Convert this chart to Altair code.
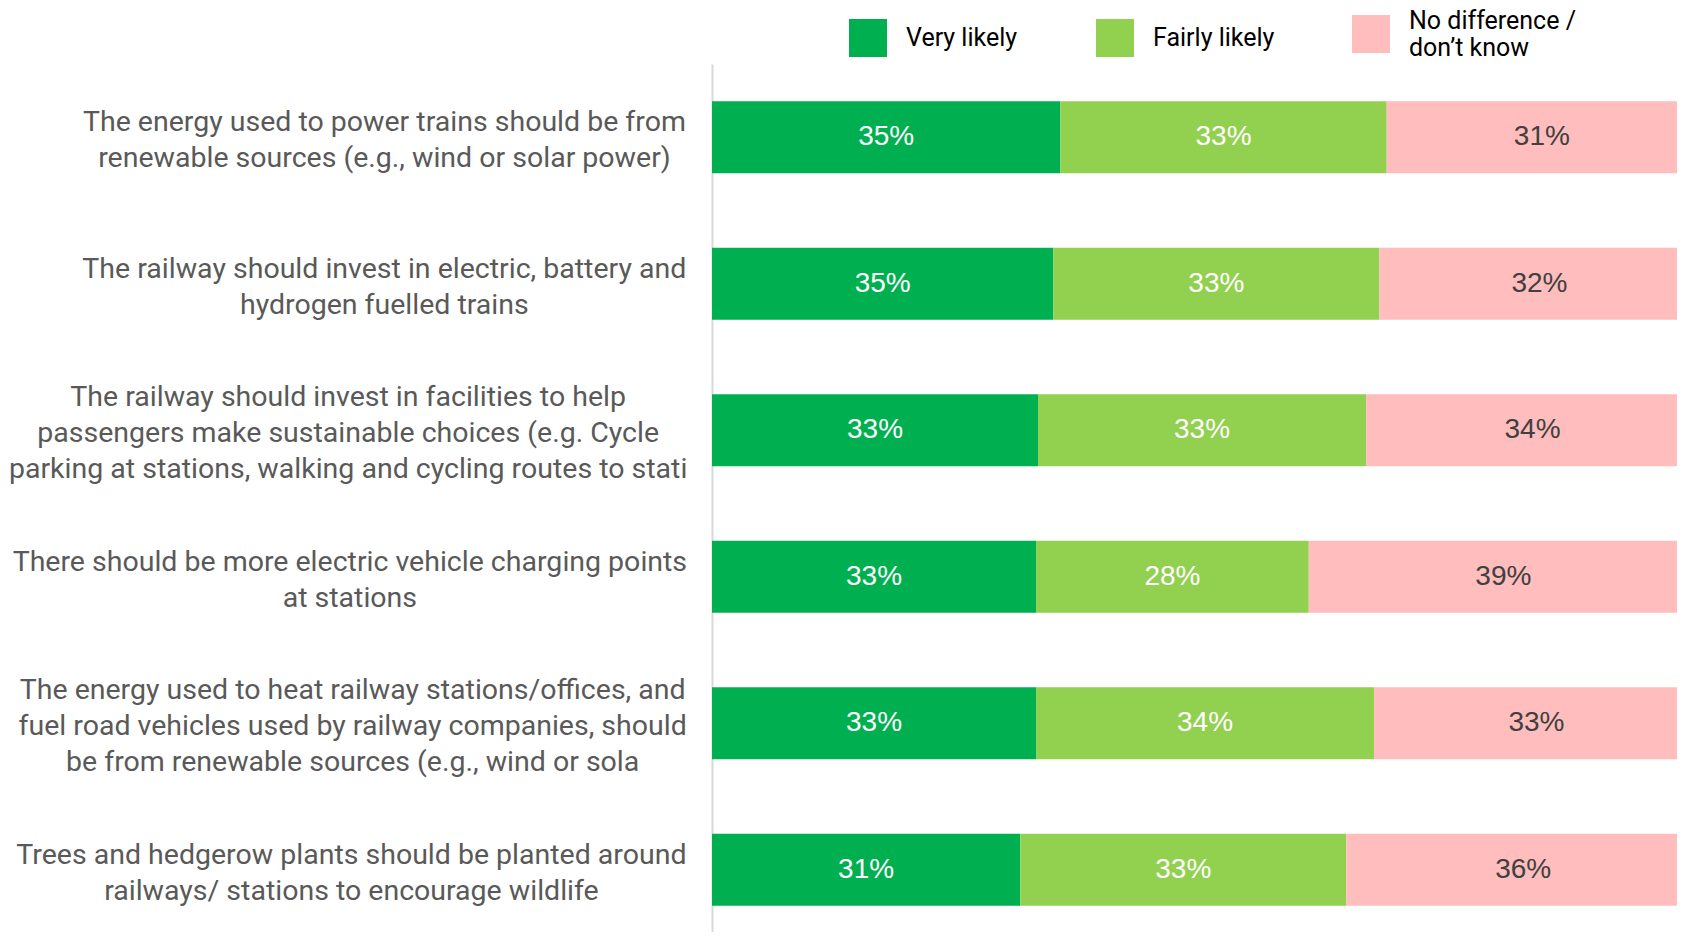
import altair as alt
import pandas as pd

statements = [
    "The energy used to power trains should be from\nrenewable sources (e.g., wind or solar power)",
    "The railway should invest in electric, battery and\nhydrogen fuelled trains",
    "The railway should invest in facilities to help\npassengers make sustainable choices (e.g. Cycle\nparking at stations, walking and cycling routes to stati",
    "There should be more electric vehicle charging points\nat stations",
    "The energy used to heat railway stations/offices, and\nfuel road vehicles used by railway companies, should\nbe from renewable sources (e.g., wind or sola",
    "Trees and hedgerow plants should be planted around\nrailways/ stations to encourage wildlife",
]
responses = ["Very likely", "Fairly likely", "No difference / don’t know"]
very_likely = [35.26, 34.55, 33.0, 32.8, 32.8, 31.2]
fairly_likely = [33.03, 33.0, 33.2, 27.6, 34.2, 33.0]
no_difference = [31.4, 32.4, 33.7, 39.4, 32.9, 35.8]
colors = ["#00B050", "#92D050", "#FFBDBD"]

# --- approximate Roboto advance widths (em) used to right-align centred label blocks
ROBOTO_EM = {
    " ": .248, "a": .531, "b": .547, "c": .510, "d": .550, "e": .517, "f": .339,
    "g": .547, "h": .538, "i": .237, "j": .233, "k": .495, "l": .237, "m": .854,
    "n": .539, "o": .556, "p": .547, "q": .554, "r": .331, "s": .503, "t": .319,
    "u": .538, "v": .472, "w": .733, "x": .484, "y": .461, "z": .484, "T": .597,
    "C": .636, "P": .616, ",": .192, ".": .257, "(": .334, ")": .340, "/": .402,
}
LABEL_SIZE = 28.5

def block_width(label):
    return max(sum(ROBOTO_EM.get(ch, .55) for ch in line) * LABEL_SIZE
               for line in label.split("\n"))

rows = []
for si, s in enumerate(statements):
    for ri, (r, vals) in enumerate(zip(responses, [very_likely, fairly_likely, no_difference])):
        rows.append({"statement": s, "response": r, "ri": ri, "value": vals[si]})
df = pd.DataFrame(rows)

base = (
    alt.Chart(df)
    .transform_stack(
        stack="value", groupby=["statement"], as_=["v0", "v1"],
        sort=[alt.SortField("ri", order="ascending")],
    )
    .transform_calculate(
        mid="(datum.v0 + datum.v1) / 2",
        lab="format(datum.value, '.0f') + '%'",
    )
)

yscale = alt.Scale(paddingInner=0.51, paddingOuter=0.255)
yenc = alt.Y(
    "statement:N",
    sort=statements,
    scale=yscale,
    axis=alt.Axis(
        title=None,
        labels=False,
        ticks=False,
        domainColor="#D9D9D9",
        domainWidth=2,
    ),
)
xscale = alt.Scale(domain=[0, 100], nice=False, zero=True)

legend_common = dict(
    title=None,
    orient="none",
    direction="horizontal",
    symbolType="square",
    symbolSize=1444,
    symbolStrokeWidth=0,
    labelFont="Roboto",
    labelFontSize=25,
    labelColor="#000000",
    labelLimit=400,
    labelOffset=19,
    columnPadding=78,
    padding=0,
)

bars_green = base.transform_filter("datum.ri < 2").mark_bar().encode(
    y=yenc,
    x=alt.X("v0:Q", scale=xscale, axis=None),
    x2="v1:Q",
    color=alt.Color(
        "response:N",
        sort=responses[:2],
        scale=alt.Scale(domain=responses[:2], range=colors[:2]),
        legend=alt.Legend(legendX=137, legendY=-45, **legend_common),
    ),
)

bars_pink = base.transform_filter("datum.ri == 2").mark_bar().encode(
    y=alt.Y("statement:N", sort=statements),
    x=alt.X("v0:Q", scale=xscale, axis=None),
    x2="v1:Q",
    color=alt.Color(
        "response:N",
        scale=alt.Scale(domain=responses[2:], range=colors[2:]),
        legend=alt.Legend(
            legendX=640, legendY=-49, labelBaseline="bottom",
            labelExpr="split(replace(datum.label, '/ ', '/|'), '|')",
            **legend_common,
        ),
    ),
)

text = base.mark_text(
    font="Liberation Sans", fontSize=28, baseline="middle", align="center"
).encode(
    y=alt.Y("statement:N", sort=statements),
    x=alt.X("mid:Q", scale=xscale),
    text="lab:N",
    color=alt.condition(
        "datum.ri == 2", alt.value("#404040"), alt.value("#FFFFFF")
    ),
)

label_df = pd.DataFrame({
    "statement": statements,
    "half": [block_width(s) / 2 for s in statements],
})
labels = (
    alt.Chart(label_df)
    .transform_calculate(
        lines="split(datum.statement, '\\n')",
        n="length(split(datum.statement, '\\n'))",
    )
    .mark_text(
        align="center",
        baseline="middle",
        font="Roboto",
        fontSize=LABEL_SIZE,
        color="#595959",
        lineHeight=36,
        dx=alt.ExprRef(expr="-datum.half"),
        dy=alt.ExprRef(expr="-(datum.n - 1) * 18 + 3"),
    )
    .encode(
        y=alt.Y("statement:N", sort=statements),
        x=alt.value(-32),
        text="lines:N",
    )
)

chart = (
    alt.layer(bars_green, bars_pink, text, labels)
    .resolve_scale(color="independent")
    .resolve_legend(color="independent")
    .properties(
        width=988,
        height=879,
        autosize=alt.AutoSizeParams(type="none"),
        padding={"left": 704, "top": 56, "right": -23, "bottom": -11},
    )
    .configure_view(stroke=None)
)

chart.save("out.html", embed_options={"renderer": "svg", "actions": False})
